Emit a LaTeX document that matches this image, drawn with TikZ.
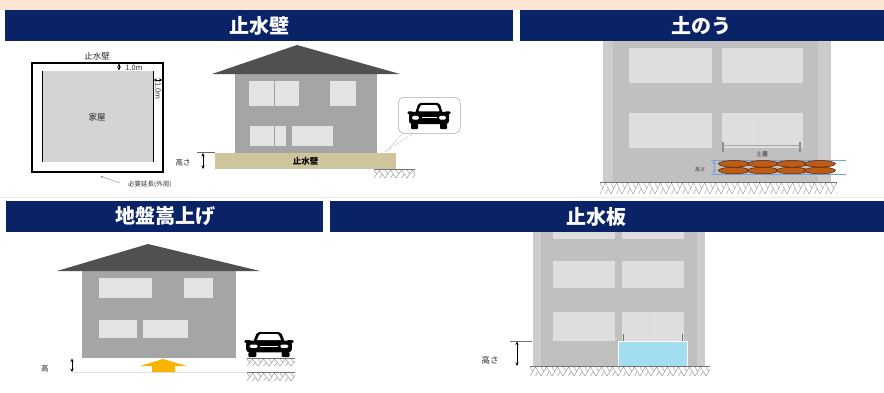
\documentclass[tikz,border=0pt]{standalone}
\usepackage{fontspec}
\newfontfamily\jp{Noto Sans CJK JP}
\usetikzlibrary{arrows.meta}

\definecolor{navy}{RGB}{10,35,102}
\definecolor{peach}{RGB}{252,229,210}
\definecolor{roofgray}{RGB}{80,80,80}
\definecolor{bodygray}{RGB}{165,165,165}
\definecolor{wingray}{RGB}{228,228,228}
\definecolor{bldgray}{RGB}{192,192,192}
\definecolor{bldwin}{RGB}{222,222,222}
\definecolor{plangray}{RGB}{212,212,212}
\definecolor{wallbeige}{RGB}{206,197,156}
\definecolor{bagbrown}{RGB}{190,92,22}
\definecolor{bagedge}{RGB}{80,36,8}
\definecolor{boardblue}{RGB}{162,221,240}
\definecolor{liftorange}{RGB}{248,180,0}
\definecolor{dimblue}{RGB}{120,160,215}

\tikzset{
  headbar/.style={fill=navy, draw=none, inner sep=0pt, anchor=north west},
  headtext/.style={text=white, font=\jp\bfseries\fontsize{20}{20}\selectfont, inner sep=0pt},
  label/.style={font=\jp\fontsize{8.5}{9}\selectfont, inner sep=0pt, text=black!85},
  tiny/.style={font=\jp\fontsize{6}{6}\selectfont, inner sep=0pt, text=black!80},
  dim/.style={line width=0.6pt, {Stealth[length=3.5pt,width=3.2pt]}-{Stealth[length=3.5pt,width=3.2pt]}},
  hatchline/.style={draw=black!45, line width=0.4pt},
  groundline/.style={draw=black!55, line width=0.6pt},
  window/.style={fill=wingray},
  bwindow/.style={fill=bldwin},
  pics/carfront/.style={code={
    \begin{scope}[yscale=-1]
      \fill[black, rounded corners=2] (-14,17) -- (-10.5,29) -- (10.5,29) -- (14,17) -- cycle;
      \fill[black, rounded corners=3] (-20,5.5) rectangle (20,19);
      \fill[black, rounded corners=1] (-21.5,16.5) rectangle (-16,19.5);
      \fill[black, rounded corners=1] (16,16.5) rectangle (21.5,19.5);
      \fill[white, rounded corners=1] (-10.8,19.5) -- (-8.3,26.5) -- (8.3,26.5) -- (10.8,19.5) -- cycle;
      \fill[white, rounded corners=1.5] (-17,10.5) rectangle (-10,14.5);
      \fill[white, rounded corners=1.5] (10,10.5) rectangle (17,14.5);
      \fill[white] (-7.5,11.8) rectangle (7.5,13.3);
      \fill[black, rounded corners=1] (-18,0) rectangle (-11,6);
      \fill[black, rounded corners=1] (11,0) rectangle (18,6);
    \end{scope}
  }}
}

% ground hatching: #1 left, #2 right, #3 top, #4 depth
\newcommand\groundhatch[4]{%
  \begin{scope}
    \clip (#1,#3) rectangle (#2,#3+#4);
    \foreach \k in {0,11,...,280} {
      \draw[hatchline] (#1+\k,#3+#4) -- (#1+\k+5.5,#3+1) -- (#1+\k+11,#3+#4);
      \draw[hatchline] (#1+\k+5.5,#3+#4) -- (#1+\k+8.25,#3+#4/2+0.5);
      \draw[hatchline] (#1+\k,#3+1) -- (#1+\k+2.75,#3+#4/2+0.5);
    }
  \end{scope}
  \draw[groundline] (#1,#3) -- (#2,#3);}

\begin{document}
\begin{tikzpicture}[x=1pt,y=-1pt]
\useasboundingbox (0,0) rectangle (884,392);
\fill[white] (0,0) rectangle (884,392);
\fill[peach] (0,0) rectangle (884,10);
\draw[black!8, line width=0.6pt] (0,197) -- (884,197);

% ---------- section headers ----------
\node[headbar, minimum width=508pt, minimum height=31pt] (barwall) at (5,10) {};
\node[headbar, minimum width=364pt, minimum height=31pt] (barbags) at (520,10) {};
\node[headbar, minimum width=317pt, minimum height=31pt] (barraise) at (6,201) {};
\node[headbar, minimum width=554pt, minimum height=31pt] (barboard) at (330,201) {};
\node[headtext] (ttlwall) at (259,25.5) {止水壁};
\node[headtext] (ttlbags) at (701,25.5) {土のう};
\node[headtext] (ttlraise) at (165,216.5) {地盤嵩上げ};
\node[headtext] (ttlboard) at (596,216.5) {止水板};

% ---------- flood wall: plan ----------
\draw[line width=2.3pt] (32,63) rectangle (163,172);
\fill[plangray] (42,71) rectangle (153,162);
\draw[line width=0.6pt] (42,71) -- (42,162);
\draw[line width=0.6pt] (153,71) -- (153,162);
\node[label] (planwall) at (97,56) {止水壁};
\node[label] (planhouse) at (97,117) {家屋};
\draw[dim, line width=0.4pt] (119,63.5) -- (119,70.5);
\node[tiny, font=\jp\fontsize{7.5}{8}\selectfont] (gaptop) at (134,67.5) {1.0m};
\draw[dim, line width=0.4pt] (153.5,80) -- (162.5,80);
\node[tiny, font=\jp\fontsize{7.5}{8}\selectfont, rotate=-90] (gapside) at (158,91) {1.0m};
\node[tiny, font=\jp\fontsize{6.5}{7}\selectfont, anchor=west] (perim) at (128,184) {必要延長(外周)};
\coordinate (perimtip) at (100,176);
\draw[black!45, line width=0.4pt, -{Latex[length=3pt,width=2.5pt,open]}] (120,183) -- (perimtip);

% ---------- flood wall: elevation ----------
\fill[bodygray] (235,74) rectangle (377,153);
\fill[roofgray] (212,74) -- (297,45) -- (400,74) -- cycle;
\fill[window] (249,81) rectangle (274,106);
\fill[window] (275,81) rectangle (299,106);
\fill[window] (330,81) rectangle (356,106);
\fill[window] (250,126) rectangle (273.5,146);
\fill[window] (275,126) rectangle (286,146);
\fill[window] (292,126) rectangle (333,146);
\groundhatch{374}{415}{169}{9}
\node[fill=wallbeige, minimum width=181pt, minimum height=16pt, inner sep=0pt,
      font=\jp\bfseries\fontsize{8.5}{9}\selectfont, anchor=north west] (wall) at (215,153) {止水壁};
\draw[black!60, line width=0.4pt] (197,152.5) -- (215,152.5);
\draw[dim] (203,153) -- (203,169);
\node[label, font=\jp\fontsize{7.5}{8}\selectfont] (wallh) at (183,163) {高さ};

% car in a callout
\node[draw=black!35, line width=0.5pt, rounded corners=6pt, minimum width=62pt,
      minimum height=36pt, anchor=north west] (callout) at (398,97) {};
\coordinate (callpt) at (385,152);
\draw[black!40, densely dotted, line width=0.5pt] ([xshift=5pt]callout.south west) -- (callpt);
\draw[black!40, densely dotted, line width=0.5pt] ([xshift=15pt]callout.south west) -- (callpt);
\pic[yscale=0.9] (car1) at (429,129) {carfront};

% ---------- sandbags ----------
\fill[bldgray] (603,41) rectangle (831,182);
\fill[black!20] (603,41) rectangle (613,182);
\fill[black!20] (818,41) rectangle (831,182);
\fill[bwindow] (629,48) rectangle (712,83);
\fill[bwindow] (722,48) rectangle (803,83);
\fill[bwindow] (629,113) rectangle (712,148);
\fill[bwindow] (722,113) rectangle (803,148);
\draw[black!12, line width=0.5pt] (752,113) -- (752,148);
\draw[black!12, line width=0.5pt] (780,113) -- (780,148);
\draw[black!45, line width=1.2pt] (723,142) -- (723,152);
\draw[black!45, line width=1.2pt] (800,142) -- (800,152);
\draw[black!35, line width=0.4pt] (723,145.5) -- (800,145.5);
\node[tiny] (baglen) at (762,154) {土嚢};
\draw[dimblue, line width=0.4pt] (711,160) -- (846,160);
\draw[dimblue, line width=0.4pt] (711,174) -- (846,174);
\draw[dim, draw=dimblue, line width=0.4pt] (714,160.5) -- (714,173.5);
\node[tiny, font=\jp\fontsize{5}{5}\selectfont] (bagh) at (700,170) {高さ};
\foreach \cx in {734,763,792,820} {
  \draw[bagedge, fill=bagbrown, line width=0.5pt] (\cx,170.5) ellipse [x radius=15.5pt, y radius=3.3pt];
}
\foreach \cx in {734,763,792,820} {
  \draw[bagedge, fill=bagbrown, line width=0.5pt] (\cx,163.8) ellipse [x radius=15.5pt, y radius=3.3pt];
}
\groundhatch{600}{837}{182}{12}

% ---------- ground raising ----------
\fill[bodygray] (82,271) rectangle (236,358);
\fill[roofgray] (57,271) -- (148,244) -- (260,271) -- cycle;
\fill[window] (99,278) rectangle (152,298);
\fill[window] (184,278) rectangle (213,298);
\fill[window] (99,320) rectangle (137,338);
\fill[window] (143,320) rectangle (188,338);
\fill[liftorange] (140,366) -- (163,359) -- (187,366) -- (175,366) -- (175,372)
  -- (152,372) -- (152,366) -- cycle;
\draw[black!12, line width=0.8pt] (72,372.5) -- (246,372.5);
\draw[dim] (72,358.5) -- (72,372);
\node[label, font=\jp\fontsize{7.5}{8}\selectfont] (raiseh) at (45,369) {高};
\pic[xscale=1.14, yscale=0.86] (car2) at (269,357) {carfront};
\groundhatch{247}{295}{358}{8}
\groundhatch{247}{295}{372}{9}

% ---------- flood board ----------
\fill[bldgray] (533,232) rectangle (705,366);
\fill[black!20] (533,232) rectangle (541,366);
\fill[black!20] (697,232) rectangle (705,366);
\fill[bwindow] (553,232) rectangle (615,239);
\fill[bwindow] (622,232) rectangle (684,239);
\fill[bwindow] (553,261) rectangle (615,288);
\fill[bwindow] (622,261) rectangle (684,288);
\fill[bwindow] (553,312) rectangle (615,341);
\fill[bwindow] (622,312) rectangle (684,341);
\draw[black!12, line width=0.5pt] (655,312) -- (655,341);
\draw[black!55, line width=0.8pt] (623,334) -- (623,341);
\draw[black!55, line width=0.8pt] (682,334) -- (682,341);
\node[fill=boardblue, draw=white, line width=0.6pt, minimum width=69pt, minimum height=25pt,
      inner sep=0pt, anchor=north west] (board) at (618,341) {};
\draw[black!55, line width=0.4pt] (510,341) -- (532,341);
\draw[dim] (517,341.5) -- (517,366);
\node[label, font=\jp\fontsize{8.5}{9}\selectfont] (boardh) at (490,360) {高さ};
\groundhatch{530}{710}{366}{10}
\end{tikzpicture}
\end{document}
